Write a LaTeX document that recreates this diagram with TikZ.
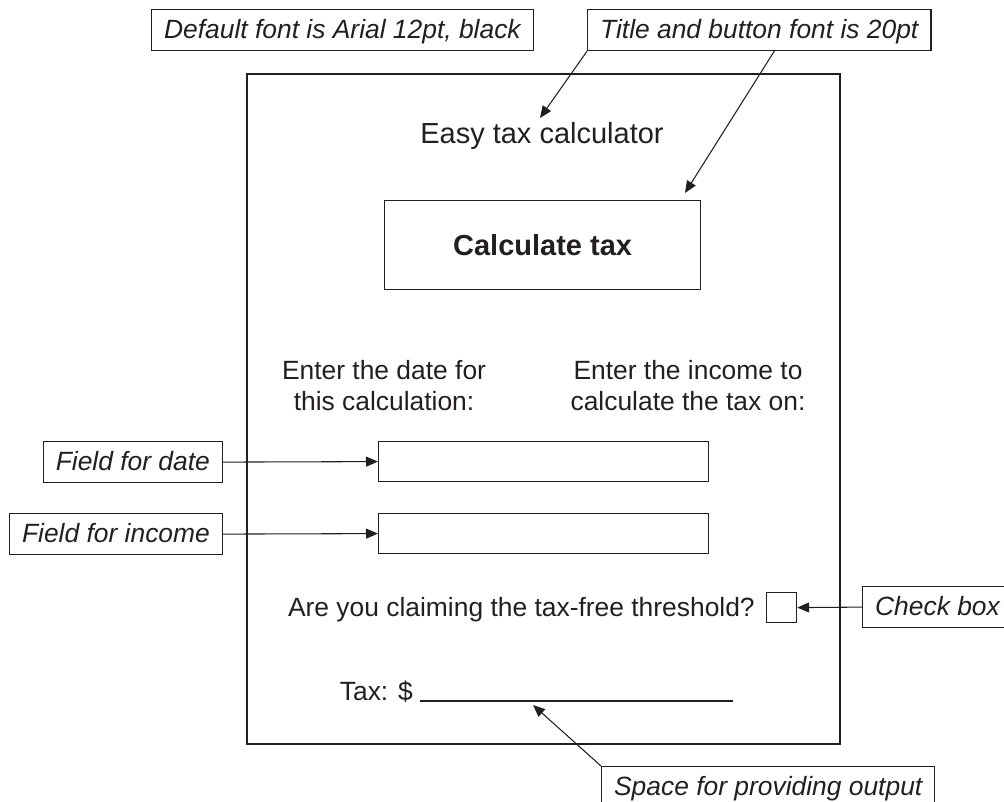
\documentclass[tikz,border=0pt]{standalone}
\usepackage{fontspec}
\setmainfont{Liberation Sans}
\usetikzlibrary{arrows.meta}
\definecolor{ink}{RGB}{35,31,32}
\begin{document}
\begin{tikzpicture}[x=0.75pt,y=-0.75pt,
  every node/.style={text=ink},
  body/.style={font=\fontsize{19.8}{23}\selectfont, inner sep=0pt},
  bigtext/.style={font=\fontsize{21.75}{26}\selectfont, inner sep=0pt},
  note/.style={draw=ink, line width=0.9pt, font=\itshape\fontsize{19.8}{23}\selectfont,
    inner xsep=9.4pt, inner ysep=0pt, minimum height=30.75pt, text height=15pt, text depth=2.5pt},
  field/.style={draw=ink, line width=0.9pt, inner sep=0pt},
  arr/.style={draw=ink, line width=0.8pt, -{Triangle[length=9pt,width=7.5pt]}}
]
\useasboundingbox (0,0) rectangle (1004,802);

% annotation boxes
\node[note, anchor=north west] (db) at (151,9) {Default font is Arial 12pt, black};
\node[note, anchor=north west] (tb) at (587,9) {Title and button font is 20pt};

% main frame
\node[draw=ink, line width=1.4pt, inner sep=0pt, anchor=north west,
  minimum width=593*0.75pt, minimum height=670*0.75pt] (frame) at (246,73) {};

% title and button
\node[bigtext, anchor=base] (title) at (542,144) {Easy tax calculator};
\node[field, anchor=north west, minimum width=316*0.75pt, minimum height=89*0.75pt,
  font=\bfseries\fontsize{21.75}{26}\selectfont] (btn) at (384,200) {Calculate tax};

% labels above fields
\node[body, anchor=base] (l1a) at (384,380) {Enter the date for};
\node[body, anchor=base] (l1b) at (384,411) {this calculation:};
\node[body, anchor=base] (l2a) at (688,380) {Enter the income to};
\node[body, anchor=base] (l2b) at (688,411) {calculate the tax on:};

% input fields
\node[field, anchor=north west, minimum width=330*0.75pt, minimum height=40*0.75pt] (datef) at (378,441) {};
\node[field, anchor=north west, minimum width=330*0.75pt, minimum height=40*0.75pt] (incf) at (378,513) {};

\node[note, anchor=north east] (fdate) at (223,441) {Field for date};
\node[note, anchor=north east] (finc) at (223,513) {Field for income};

% check box
\node[body, anchor=base east] (q) at (755,616) {Are you claiming the tax-free threshold?};
\node[field, anchor=north west, minimum width=30*0.75pt, minimum height=30*0.75pt] (chk) at (766,592) {};
\node[note, anchor=north west] (chklbl) at (862,586) {Check box};

% tax output
\node[body, anchor=base east] (tax) at (413,700) {Tax: \$};
\coordinate (ls) at (420,701);
\coordinate (le) at (733,701);
\draw[ink, line width=0.8pt] (ls) -- (le);
\node[note, anchor=north west] (spc) at (601,766) {Space for providing output};

% connectors
\coordinate (t1) at (540,118);
\coordinate (t2s) at (775,50);
\coordinate (t2) at (685,193);
\coordinate (t3) at (533,705);
\draw[arr] (tb.south west) -- (t1);
\draw[arr] (t2s) -- (t2);
\draw[arr] (fdate.east) -- (datef.west);
\draw[arr] (finc.east) -- (incf.west);
\draw[arr] (chklbl.west) -- (chk.east);
\draw[arr] (spc.north west) -- (t3);
\end{tikzpicture}
\end{document}
